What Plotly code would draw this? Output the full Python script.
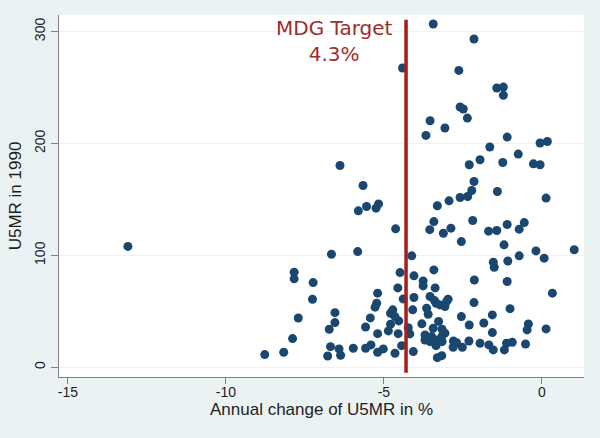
import plotly.graph_objects as go

# Annual change of U5MR in % (x) and U5MR in 1990 (y)
change = [
    -13.1, -7.84, -7.84, -7.71, -7.89, -8.17, -8.77, -7.24, -7.26,
    -6.66, -5.83, -6.73, -6.55, -6.55, -6.69, -6.42, -6.78, -6.37,
    -5.97, -5.58, -5.41, -5.20, -5.02, -5.58, -5.43, -5.20, -5.23, -5.28, -5.20,
    -4.79, -4.65, -4.72, -4.79, -4.53, -4.86, -4.55, -4.65, -4.44, -4.07,
    -4.56, -4.49, -4.39, -4.23, -4.18, -4.09, -4.05, -4.05, -4.12,
    -6.39, -5.66, -5.81, -5.55, -5.25, -5.17, -4.63, -4.41,
    -3.76, -3.76, -3.42, -3.38, -3.54, -3.40, -2.97, -3.07, -3.23, -3.35, -3.02,
    -3.65, -3.60, -3.80, -3.27, -3.44, -3.16, -3.70, -3.49, -3.70, -3.33, -3.54,
    -3.17, -3.35, -3.16, -3.31, -3.17, -3.07, -2.80,
    -2.55, -2.70, -2.81, -2.52, -2.31, -2.30, -2.14, -2.15,
    -1.96, -1.84, -1.68, -1.57, -1.54, -1.57,
    -1.19, -1.12, -0.94, -0.52, -1.01, -1.10,
    -0.43, -0.47, 0.13, 0.33,
    -1.54, -1.51, -1.08, -0.72, -0.19, 0.07, 1.02,
    -1.20, -2.55,
    -3.42, -3.55, -3.12, -2.88, -2.19, -1.69, -1.43, -1.10, -0.72, -0.56,
    -3.31, -2.94, -2.59, -2.35, -2.22, -2.15, -1.41, 0.13,
    -2.30, -1.96, -1.24, -0.27, -0.06, -0.75, -1.65, -1.10, -0.06, 0.17,
    -3.67, -3.07, -3.54, -2.36, -2.59, -2.49,
    -1.43, -1.22, -1.22, -2.63, -2.15, -3.44,
]
u5mr_1990 = [
    108, 85, 79, 44, 25.6, 13.4, 11.3, 75.7, 60.8,
    101, 103.4, 34, 48.8, 39.9, 18.4, 16.4, 10.1, 10.7,
    17, 17, 20, 13.4, 16.4, 36, 44.1, 30, 57.2, 53.7, 66.2,
    48.3, 45.3, 51.3, 38.5, 41.4, 32.5, 30, 12.5, 19.3, 14,
    70.9, 84.6, 61.1, 35.4, 29.8, 51.3, 62.3, 81.7, 99.6,
    180.3, 162.4, 139.8, 143.7, 142.2, 146, 123.7, 267.4,
    77.2, 72.7, 87, 70.9, 63.2, 59.6, 60.8, 54.2, 55.7, 57.2, 58.7,
    52.8, 47.4, 38.8, 41.0, 34.9, 34, 28.9, 27.4, 24.4, 24.4, 22.9,
    27.4, 19.3, 22.9, 8.6, 10.4, 30.5, 23.5,
    45.3, 22, 17.9, 17.9, 23.5, 37.8, 78, 57.8,
    21.5, 39.6, 20, 31, 15.5, 46.8,
    15.5, 21.5, 22.4, 20.8, 52.4, 76.6,
    38.7, 33.4, 34.3, 66.2,
    93.9, 89.4, 95, 99.6, 104, 97.5, 105,
    109.4, 112.3,
    130.2, 123, 119.8, 124.3, 131.2, 121.6, 122.2, 127.6, 123.4, 129.3,
    144.3, 148.7, 151.7, 152.6, 158, 166, 157.1, 151.2,
    181, 185.4, 183, 181.8, 181, 190.5, 196.8, 205.7, 200.4, 201.8,
    207.2, 213.8, 220.3, 222.7, 232.6, 230.8,
    249.6, 250.4, 243, 265.3, 293.4, 306.8,
]

target = -4.3
target_line_y = [-5, 310.5]
x_ticks = [-15, -10, -5, 0]
y_ticks = [0, 100, 200, 300]

fig = go.Figure()
fig.add_trace(go.Scatter(
    x=change, y=u5mr_1990, mode="markers",
    marker=dict(size=9, color="#1A476F", line=dict(width=0)),
    showlegend=False, hoverinfo="skip",
))
fig.add_trace(go.Scatter(
    x=[target, target], y=target_line_y, mode="lines",
    line=dict(color="#A61E18", width=3.5),
    showlegend=False, hoverinfo="skip",
))
fig.add_annotation(
    x=-6.55, y=292, xref="x", yref="y",
    text="MDG Target<br>4.3%", showarrow=False,
    font=dict(family="DejaVu Sans", size=20, color="#9E2E2B"),
    align="center",
)

fig.update_layout(
    width=600, height=438,
    margin=dict(l=59, r=16, t=15, b=61),
    paper_bgcolor="#EAF2F3",
    plot_bgcolor="#FFFFFF",
    font=dict(family="Liberation Sans, Arial", size=14, color="#1E1E1E"),
)
fig.update_xaxes(
    range=[-15.28, 1.33], tickvals=x_ticks, ticktext=[str(v) for v in x_ticks],
    showgrid=False, zeroline=False, showline=True, linecolor="#808080", linewidth=1,
    ticks="outside", ticklen=6, tickcolor="#808080", ticklabelstandoff=-4,
    title=dict(text="Annual change of U5MR in %", standoff=4),
)
fig.update_yaxes(
    range=[-8.7, 314.8], tickvals=y_ticks, ticktext=[str(v) for v in y_ticks],
    showgrid=True, gridcolor="#EAF2F3", gridwidth=1,
    zeroline=False, showline=True, linecolor="#808080", linewidth=1,
    ticks="outside", ticklen=7, tickcolor="#808080", tickangle=-90,
    title=dict(text="U5MR in 1990", standoff=6),
)

fig.write_html(
    "out.html",
    config={"displayModeBar": False},
    post_script="document.body.style.margin='0';document.body.style.background='#EAF2F3';",
)
